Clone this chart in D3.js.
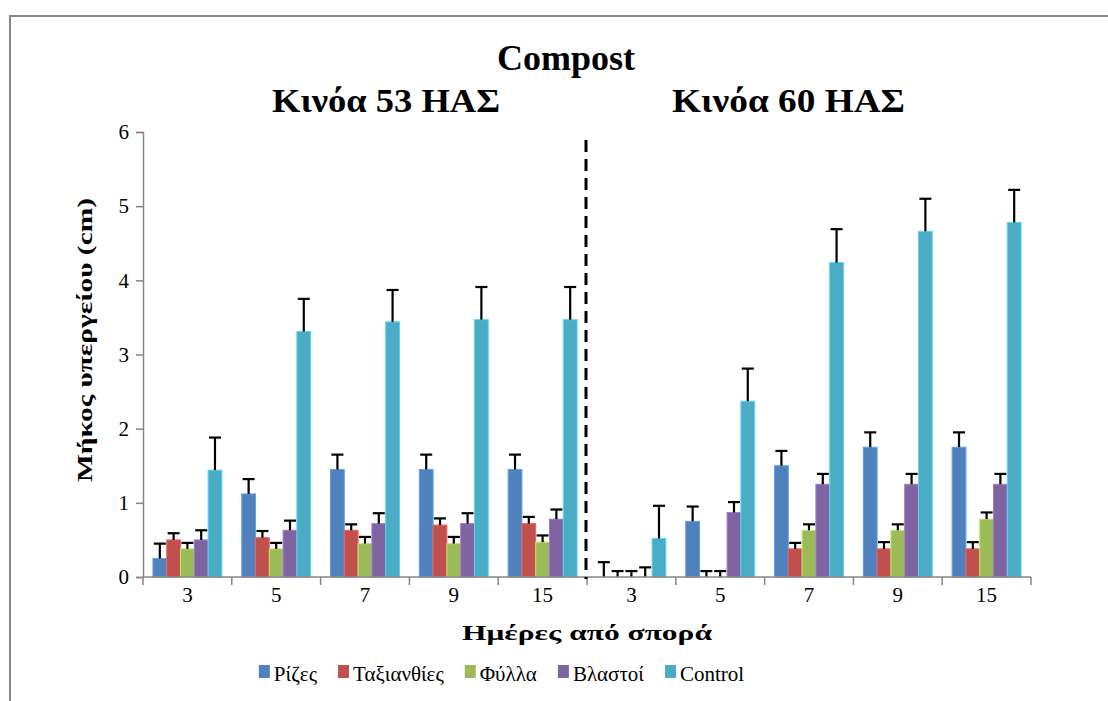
<!DOCTYPE html>
<html>
<head>
<meta charset="utf-8">
<script src="https://cdn.jsdelivr.net/npm/d3@7"></script>
<style>
  html, body { margin: 0; padding: 0; background: #fff; }
  svg text { font-family: "Liberation Serif", "DejaVu Serif", serif; }
</style>
</head>
<body>
<svg id="chart" width="1108" height="701"></svg>
<script>
// Days after sowing, two sowing dates (53 and 60 ΗΑΣ) side by side
const days = ["3", "5", "7", "9", "15", "3", "5", "7", "9", "15"];
const panelTitles = ["Κινόα 53 ΗΑΣ", "Κινόα 60 ΗΑΣ"];
const seriesNames = ["Ρίζες", "Ταξιανθίες", "Φύλλα", "Βλαστοί", "Control"];
const seriesColors = ["#4F81BD", "#C0504D", "#9BBB59", "#8064A2", "#4BACC6"];

// Mean shoot length (cm) per treatment
const riz   = [0.25, 1.12, 1.45, 1.45, 1.45, 0.00, 0.75, 1.50, 1.75, 1.75];
const taxi  = [0.50, 0.53, 0.63, 0.70, 0.72, 0.00, 0.00, 0.38, 0.38, 0.38];
const fylla = [0.38, 0.38, 0.45, 0.45, 0.47, 0.00, 0.00, 0.63, 0.63, 0.78];
const vlast = [0.50, 0.63, 0.72, 0.72, 0.78, 0.00, 0.87, 1.25, 1.25, 1.25];
const ctrl  = [1.44, 3.31, 3.44, 3.47, 3.47, 0.52, 2.37, 4.24, 4.66, 4.78];

// Standard errors (upper whiskers only)
const rizErr   = [0.20, 0.20, 0.20, 0.20, 0.20, 0.20, 0.20, 0.20, 0.20, 0.20];
const taxiErr  = [0.09, 0.09, 0.08, 0.09, 0.09, 0.08, 0.08, 0.08, 0.09, 0.09];
const fyllaErr = [0.08, 0.08, 0.09, 0.09, 0.09, 0.08, 0.08, 0.08, 0.08, 0.09];
const vlastErr = [0.13, 0.13, 0.14, 0.14, 0.13, 0.13, 0.14, 0.14, 0.14, 0.14];
const ctrlErr  = [0.44, 0.44, 0.43, 0.44, 0.44, 0.44, 0.44, 0.45, 0.44, 0.44];

const yTicks = [0, 1, 2, 3, 4, 5, 6];

const values = [riz, taxi, fylla, vlast, ctrl];
const errors = [rizErr, taxiErr, fyllaErr, vlastErr, ctrlErr];

const SERIF = "'Liberation Serif', 'DejaVu Serif', serif";
const svg = d3.select("#chart");

// outer frame
svg.append("rect")
  .attr("x", 10).attr("y", 16).attr("width", 1120).attr("height", 720)
  .attr("fill", "none").attr("stroke", "#868686").attr("stroke-width", 2);

const plot = { left: 143, right: 1031, top: 132, bottom: 577 };

const x0 = d3.scaleBand()
  .domain(d3.range(days.length))
  .range([plot.left, plot.right])
  .padding(0);

const x1 = d3.scaleBand()
  .domain(d3.range(seriesNames.length))
  .range([0, x0.bandwidth()])
  .paddingInner(0)
  .paddingOuter(0.72);

const y = d3.scaleLinear().domain([0, 6]).range([plot.bottom, plot.top]);

// y axis
const yAxis = svg.append("g")
  .attr("transform", `translate(${plot.left},0)`)
  .call(d3.axisLeft(y).tickValues(yTicks).tickFormat(d3.format("d")).tickSizeOuter(0).tickSize(7).tickPadding(7));
yAxis.attr("font-family", null).attr("font-size", null);
yAxis.select(".domain").attr("stroke", "#868686").attr("stroke-width", 1.5);
yAxis.selectAll(".tick line").attr("stroke", "#868686").attr("stroke-width", 1.5);
yAxis.selectAll(".tick text")
  .style("font-family", SERIF).attr("font-size", 21).attr("fill", "#000");

// bars
const groups = svg.append("g").selectAll("g")
  .data(days.map((d, i) => i))
  .join("g")
  .attr("transform", i => `translate(${x0(i)},0)`);

groups.selectAll("rect")
  .data(i => values.map((arr, s) => ({ s, v: arr[i] })))
  .join("rect")
  .attr("x", d => x1(d.s))
  .attr("width", x1.bandwidth())
  .attr("y", d => y(d.v))
  .attr("height", d => y(0) - y(d.v))
  .attr("fill", d => seriesColors[d.s])
  .attr("stroke", d => d3.color(seriesColors[d.s]).brighter(0.6))
  .attr("stroke-width", d => d.v > 0 ? 1 : 0);

// error whiskers
const whisk = groups.selectAll("g.err")
  .data(i => values.map((arr, s) => ({ s, v: arr[i], e: errors[s][i] })))
  .join("g").attr("class", "err");
whisk.append("line")
  .attr("x1", d => x1(d.s) + x1.bandwidth() / 2)
  .attr("x2", d => x1(d.s) + x1.bandwidth() / 2)
  .attr("y1", d => y(d.v))
  .attr("y2", d => y(d.v + d.e))
  .attr("stroke", "#000").attr("stroke-width", 2.2);
whisk.append("line")
  .attr("x1", d => x1(d.s) + x1.bandwidth() / 2 - 6)
  .attr("x2", d => x1(d.s) + x1.bandwidth() / 2 + 6)
  .attr("y1", d => y(d.v + d.e))
  .attr("y2", d => y(d.v + d.e))
  .attr("stroke", "#000").attr("stroke-width", 2.2);

// x axis with category separators
const xAxisG = svg.append("g").attr("transform", `translate(0,${plot.bottom})`);
xAxisG.append("line")
  .attr("x1", plot.left).attr("x2", plot.right)
  .attr("stroke", "#868686").attr("stroke-width", 1.5);
const edges = d3.range(days.length + 1).map(i => i < days.length ? x0(i) : plot.right);
xAxisG.selectAll("line.sep")
  .data(edges).join("line").attr("class", "sep")
  .attr("x1", d => d).attr("x2", d => d)
  .attr("y1", 0).attr("y2", 8)
  .attr("stroke", "#868686").attr("stroke-width", 1.5);
xAxisG.selectAll("text")
  .data(days).join("text")
  .attr("x", (d, i) => x0(i) + x0.bandwidth() / 2)
  .attr("y", 25)
  .attr("text-anchor", "middle")
  .style("font-family", SERIF)
  .attr("font-size", 21)
  .text(d => d);

// divider between sowing dates
svg.append("line")
  .attr("x1", x0(5) - 1).attr("x2", x0(5) - 1)
  .attr("y1", 140).attr("y2", plot.bottom + 2)
  .attr("stroke", "#000").attr("stroke-width", 3)
  .attr("stroke-dasharray", "12,7");

// titles
svg.append("text")
  .attr("x", 566).attr("y", 70)
  .attr("text-anchor", "middle")
  .style("font-family", SERIF)
  .attr("font-weight", "bold").attr("font-size", 36)
  .text("Compost");
const panelX = [386, 788.5];
const panelW = [228, 233];
svg.selectAll("text.panel")
  .data(panelTitles).join("text").attr("class", "panel")
  .attr("x", (d, i) => panelX[i])
  .attr("y", 112)
  .attr("text-anchor", "middle")
  .attr("textLength", (d, i) => panelW[i])
  .attr("lengthAdjust", "spacingAndGlyphs")
  .style("font-family", SERIF)
  .attr("font-weight", "bold").attr("font-size", 34)
  .text(d => d);

// axis titles
svg.append("text")
  .attr("transform", "translate(92,340) rotate(-90)")
  .attr("text-anchor", "middle")
  .attr("textLength", 284)
  .attr("lengthAdjust", "spacingAndGlyphs")
  .style("font-family", SERIF)
  .attr("font-weight", "bold").attr("font-size", 22)
  .text("Μήκος υπεργείου (cm)");
svg.append("text")
  .attr("x", 587).attr("y", 640)
  .attr("text-anchor", "middle")
  .attr("textLength", 250)
  .attr("lengthAdjust", "spacingAndGlyphs")
  .style("font-family", SERIF)
  .attr("font-weight", "bold").attr("font-size", 21)
  .text("Ημέρες από σπορά");

// legend
const legend = svg.append("g");
const items = legend.selectAll("g")
  .data(seriesNames).join("g");
items.append("rect")
  .attr("width", 11).attr("height", 13)
  .attr("y", 665)
  .attr("fill", (d, i) => seriesColors[i]);
items.append("text")
  .attr("x", 15).attr("y", 681)
  .style("font-family", SERIF)
  .attr("font-size", 21)
  .text(d => d);
let cursor = 0;
const starts = [];
items.each(function () {
  starts.push(cursor);
  const w = d3.select(this).select("text").node().getComputedTextLength();
  cursor += 15 + w + 21;
});
const total = cursor - 21;
const legendLeft = 501.5 - total / 2;
items.attr("transform", (d, i) => `translate(${legendLeft + starts[i]},0)`);
</script>
</body>
</html>
